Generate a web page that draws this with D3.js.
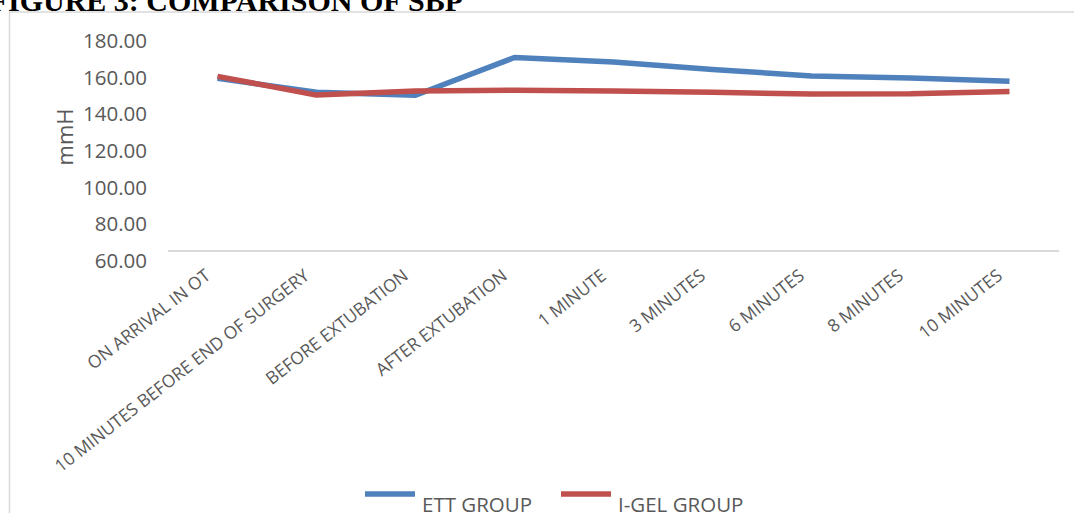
<!DOCTYPE html>
<html>
<head>
<meta charset="utf-8">
<script src="https://cdn.jsdelivr.net/npm/d3@7"></script>
<style>
  html, body { margin: 0; padding: 0; background: #fff; overflow: hidden; }
  svg { display: block; }
</style>
</head>
<body>
<svg id="chart" width="1074" height="513"></svg>
<script>
// Time points along the category axis
const categories = [
  "ON ARRIVAL IN OT",
  "10 MINUTES BEFORE END OF SURGERY",
  "BEFORE EXTUBATION",
  "AFTER EXTUBATION",
  "1 MINUTE",
  "3 MINUTES",
  "6 MINUTES",
  "8 MINUTES",
  "10 MINUTES"
];

// Mean systolic blood pressure (mmHg) per group
const ettValues  = [159.6, 152.0, 150.4, 171.0, 168.5, 164.5, 160.9, 159.8, 158.0];
const igelValues = [160.7, 150.5, 152.7, 153.1, 152.7, 152.0, 151.1, 151.2, 152.5];

const seriesNames = ["ETT GROUP", "I-GEL GROUP"];
const yTicks = [60, 80, 100, 120, 140, 160, 180];
const yDomain = [60, 180];
const axisCrossValue = 65.5; // value at which the category axis crosses

const colors = ["#4F81BD", "#C0504D"];
const textColor = "#595959";
const font = "'Open Sans', 'Liberation Sans', sans-serif";

const svg = d3.select("#chart");

// Title (partly outside the top edge of the page)
svg.append("text")
  .attr("x", 463).attr("y", 11)
  .attr("text-anchor", "end")
  .attr("font-family", "'Liberation Serif', 'Times New Roman', serif")
  .attr("font-weight", "bold")
  .attr("font-size", 30)
  .attr("fill", "#000")
  .text("FIGURE 3: COMPARISON OF SBP");

// Chart frame
svg.append("path")
  .attr("d", "M9.5,520 L9.5,12 L1080,12")
  .attr("fill", "none")
  .attr("stroke", "#d9d9d9")
  .attr("stroke-width", 1.5);

const x = d3.scalePoint().domain(categories).range([168, 1059]).padding(0.5);
const y = d3.scaleLinear().domain(yDomain).range([261, 41]);

// Y-axis tick labels
const yAxis = d3.axisLeft(y).tickValues(yTicks).tickFormat(d3.format(".2f")).tickSize(0).tickPadding(0);
const gy = svg.append("g").attr("transform", "translate(147,0)").call(yAxis);
gy.select(".domain").remove();
gy.selectAll("text")
  .attr("font-family", font)
  .attr("font-size", 20.5)
  .attr("fill", textColor);

// Y-axis title
svg.append("text")
  .attr("transform", "translate(73,137) rotate(-90)")
  .attr("text-anchor", "middle")
  .attr("font-family", font)
  .attr("font-size", 22)
  .attr("fill", textColor)
  .text("mmH");

// Category axis line
svg.append("line")
  .attr("x1", 168).attr("x2", 1059)
  .attr("y1", y(axisCrossValue)).attr("y2", y(axisCrossValue))
  .attr("stroke", "#d9d9d9")
  .attr("stroke-width", 2);

// Rotated category labels
svg.append("g").selectAll("text")
  .data(categories)
  .join("text")
  .attr("transform", d => `translate(${x(d) - 6},${y(axisCrossValue) + 27}) rotate(-38)`)
  .attr("text-anchor", "end")
  .attr("font-family", font)
  .attr("font-size", 17.5)
  .attr("fill", textColor)
  .text(d => d);

// Series lines
const line = d3.line()
  .x((d, i) => x(categories[i]))
  .y(d => y(d));

[ettValues, igelValues].forEach((vals, k) => {
  svg.append("path")
    .datum(vals)
    .attr("d", line)
    .attr("fill", "none")
    .attr("stroke", colors[k])
    .attr("stroke-width", 5.5)
    .attr("stroke-linejoin", "round");
});

// Legend
const legendX = [365, 561];
seriesNames.forEach((name, k) => {
  svg.append("line")
    .attr("x1", legendX[k]).attr("x2", legendX[k] + 50)
    .attr("y1", 494).attr("y2", 494)
    .attr("stroke", colors[k])
    .attr("stroke-width", 5.5);
  svg.append("text")
    .attr("x", legendX[k] + 57).attr("y", 512)
    .attr("font-family", font)
    .attr("font-size", 20.5)
    .attr("fill", textColor)
    .text(name);
});
</script>
</body>
</html>
